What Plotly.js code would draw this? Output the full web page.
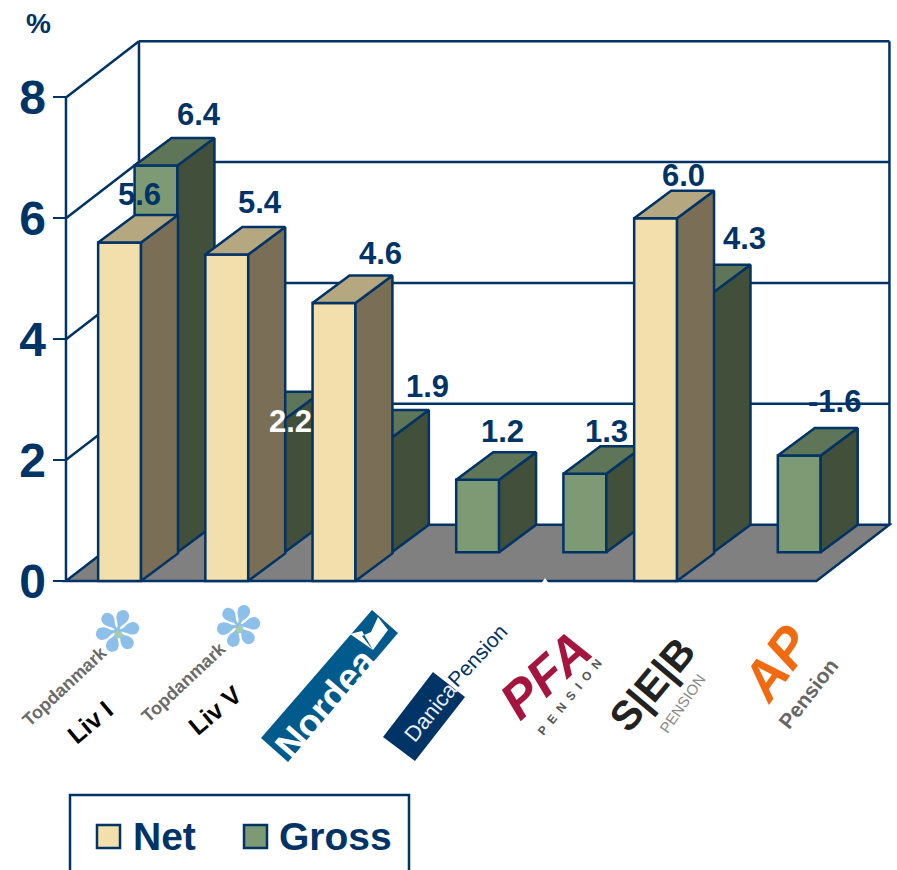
<!DOCTYPE html>
<html>
<head>
<meta charset="utf-8">
<script src="https://cdn.plot.ly/plotly-3.0.1.min.js"></script>
<style>html,body{margin:0;padding:0;background:#fff;overflow:hidden}</style>
</head>
<body>
<div id="chart" style="width:897px;height:870px"></div>
<script>
// --- data ---
const categories = ['Topdanmark Liv I','Topdanmark Liv V','Nordea','Danica Pension','PFA Pension','SEB Pension','AP Pension'];
const netValues = [5.6, 5.4, 4.6, null, null, 6.0, null];
const grossValues = [6.4, 2.2, 1.9, 1.2, 1.3, 4.3, 1.6];       // AP bar is drawn upward in the source
const grossLabels = ['6.4','2.2','1.9','1.2','1.3','4.3','-1.6'];
const yTicks = [0, 2, 4, 6, 8];

// --- styling / geometry ---
const NAVY = '#003366';
const FONT = '"Liberation Sans", Arial, sans-serif';
const W = 897, H = 870, ML = 53, MR = 5, MT = 37, MB = 283;
const barW = 0.40, depthX = 0.345, depthY = 0.455;      // single bar depth
const rowX = 0.34, rowY = 0.475;                        // offset of the Gross row
const wallX = 0.681, wallY = 0.93;                      // floor depth
const xRange = [-0.121, 7.705], yRange = [-0.1, 9.0];
const LW = 2.5;
const net = {front:'#f2dfab', top:'#b5a780', side:'#7a6e56'};
const gro = {front:'#7d9a74', top:'#5e7558', side:'#424f3b'};
const xs = categories.map((c,i)=>i+0.5);

function faces(vals, dx, dy){
  const top={x:[],y:[]}, side={x:[],y:[]};
  vals.forEach((v,i)=>{
    if(v===null) return;
    const l=xs[i]+dx-barW/2, r=xs[i]+dx+barW/2, b=dy, t=dy+v;
    top.x.push(l,r,r+depthX,l+depthX,l,null);
    top.y.push(t,t,t+depthY,t+depthY,t,null);
    side.x.push(r,r+depthX,r+depthX,r,r,null);
    side.y.push(b,b+depthY,t+depthY,t,b,null);
  });
  return {top,side};
}
function poly(f,color,xa,ya){
  return {type:'scatter',mode:'lines',x:f.x,y:f.y,fill:'toself',fillcolor:color,
    line:{color:NAVY,width:LW},xaxis:xa,yaxis:ya,hoverinfo:'skip',showlegend:false,cliponaxis:false};
}
const gf = faces(grossValues,rowX,rowY), nf = faces(netValues,0,0);
const traces = [
  {type:'bar',name:'Gross',x:xs.map(v=>v+rowX),y:grossValues,base:xs.map(()=>rowY),width:barW,
   text:categories,hoverinfo:'text+y',textposition:'none',cliponaxis:false,
   marker:{color:gro.front,line:{color:NAVY,width:LW}},xaxis:'x',yaxis:'y'},
  poly(gf.side,gro.side,'x','y'), poly(gf.top,gro.top,'x','y'),
  {type:'bar',name:'Net',x:xs,y:netValues,width:barW,
   text:categories,hoverinfo:'text+y',textposition:'none',cliponaxis:false,
   marker:{color:net.front,line:{color:NAVY,width:LW}},xaxis:'x2',yaxis:'y2'},
  poly(nf.side,net.side,'x2','y2'), poly(nf.top,net.top,'x2','y2')
];

// --- walls, floor ---
const seg=(x0,y0,x1,y1)=>({type:'line',xref:'x',yref:'y',x0,y0,x1,y1,layer:'below',line:{color:NAVY,width:LW}});
const xEnd = categories.length;
const shapes = [
  {type:'path',xref:'x',yref:'y',layer:'below',fillcolor:'#808080',line:{color:NAVY,width:LW},
   path:`M0,0 L${wallX},${wallY} L${xEnd+wallX},${wallY} L${xEnd},0 Z`},
  seg(0,0,0,8), seg(wallX,wallY,wallX,8+wallY), seg(xEnd+wallX,wallY,xEnd+wallX,8+wallY)
];
yTicks.filter(t=>t>0).forEach(t=>{
  shapes.push(seg(0,t,wallX,t+wallY), seg(wallX,t+wallY,xEnd+wallX,t+wallY));
});

// --- pixel helpers for page furniture ---
const px=x=>(x-ML)/(W-ML-MR), py=y=>(H-MB-y)/(H-MT-MB);
function note(text,x,y,size,color,angle,extra){
  return Object.assign({xref:'paper',yref:'paper',x:px(x),y:py(y),xanchor:'center',yanchor:'middle',
    showarrow:false,text,textangle:angle||0,font:{family:FONT,size,color}},extra||{});
}
function blob(points,fill,tail){
  const d=points.map((p,i)=>(i?'L':'M')+px(p[0])+','+py(p[1])).join(' ')+(tail||' Z');
  return {type:'path',xref:'paper',yref:'paper',layer:'above',path:d,fillcolor:fill,line:{width:0}};
}
const B=s=>'<b>'+s+'</b>';

// --- value labels ---
const netShift=[[20,48],[33,52],[47,49],null,null,[28,43],null];
const groShift=[[43,51],[27,-2],[57,51],[25,48],[22,42],[52,54],[35,54]];
const annotations=[];
function valueLabel(text,x,y,sh,color){
  annotations.push({xref:'x2',yref:'y2',x,y,xshift:sh[0],yshift:sh[1],showarrow:false,xanchor:'center',yanchor:'middle',
    text:B(text),font:{family:FONT,size:31,color}});
}
netValues.forEach((v,i)=>{ if(v!==null) valueLabel(v.toFixed(1),xs[i],v,netShift[i],NAVY); });
grossValues.forEach((v,i)=>{ valueLabel(grossLabels[i],xs[i]+rowX,v+rowY,groShift[i],i===1?'#ffffff':NAVY); });

// --- % and legend ---
annotations.push(note(B('%'),38,24,28,NAVY));
shapes.push({type:'path',xref:'paper',yref:'paper',layer:'above',fillcolor:'rgba(0,0,0,0)',line:{color:NAVY,width:LW},
  path:`M${px(70)},${py(875)} L${px(70)},${py(795)} L${px(409)},${py(795)} L${px(409)},${py(875)}`});
[[97,net.front],[244,gro.front]].forEach(s=>shapes.push({type:'rect',xref:'paper',yref:'paper',layer:'above',
  x0:px(s[0]),x1:px(s[0]+23),y0:py(825),y1:py(848),fillcolor:s[1],line:{color:NAVY,width:LW}}));
annotations.push(note(B('Net'),131,836,39,NAVY,0,{xanchor:'left'}));
annotations.push(note(B('Gross'),277,836,39,NAVY,0,{xanchor:'left'}));

// --- logo panels and wordmarks under the axis ---
shapes.push(
  blob([[540,585],[545,578],[550,585]],'#ffffff'),
  blob([[372,610],[398,633],[288,762],[261,738]],'#005a8c'),
  blob([[350,634],[362,631],[373,650],[388,630],[378,617],[371,632],[362,636],[373,650]],'#ffffff'),
  blob([[383,737],[415,761],[465,697],[433,672]],'#003366')
);
[[118,632],[239,627]].forEach(f=>{
  annotations.push(note('✽',f[0],f[1],58,'#8cc0ea',-40,{font:{family:'"DejaVu Sans"',size:58,color:'#8cc0ea'}}));
  annotations.push(note('●',f[0],f[1]+1,10,'#a3cdb0',0,{font:{family:'"DejaVu Sans"',size:10,color:'#a3cdb0'}}));
});
annotations.push(
  note(B('Topdanmark'),65,686,18,'#6a6a6a',-43),
  note(B('Topdanmark'),184,682,18,'#6a6a6a',-43),
  note(B('Liv I'),90,722,25,'#000000',-40),
  note(B('Liv V'),215,710,25,'#000000',-40),
  note(B('Nordea'),326,703,38,'#ffffff',-49),
  note('Danica',430,712,22,'#e8eef5',-51),
  note('Pension',477,655,21,'#003366',-47),
  note('<b><i>PFA</i></b>',545,675,52,'#a5153f',-42),
  note(B('P &nbsp;E &nbsp;N &nbsp;S &nbsp;I &nbsp;O &nbsp;N'),570,697,12,'#555555',-51),
  note(B('S|E|B'),652,685,41,'#222222',-50),
  note('PENSION',682,703,15,'#888888',-55),
  note('<b><i>AP</i></b>',776,663,54,'#f26a10',-54),
  note(B('Pension'),808,693,21,'#666666',-52)
);

const layout = {
  width:W,height:H,margin:{l:ML,r:MR,t:MT,b:MB,pad:0},
  paper_bgcolor:'#ffffff',plot_bgcolor:'rgba(0,0,0,0)',showlegend:false,barmode:'overlay',
  xaxis:{range:xRange,visible:false,fixedrange:true},
  yaxis:{range:yRange,tickmode:'array',tickvals:yTicks,ticktext:yTicks.map(t=>'<b>'+t+'</b>'),
    ticks:'inside',ticklen:13,tickwidth:2,tickcolor:NAVY,showgrid:false,zeroline:false,showline:false,
    ticklabelstandoff:6,tickfont:{family:FONT,size:48,color:NAVY},fixedrange:true},
  xaxis2:{range:xRange,visible:false,overlaying:'x',fixedrange:true},
  yaxis2:{range:yRange,visible:false,overlaying:'y',fixedrange:true},
  shapes,annotations
};
Plotly.newPlot('chart',traces,layout,{staticPlot:true,displayModeBar:false});
</script>
</body>
</html>
